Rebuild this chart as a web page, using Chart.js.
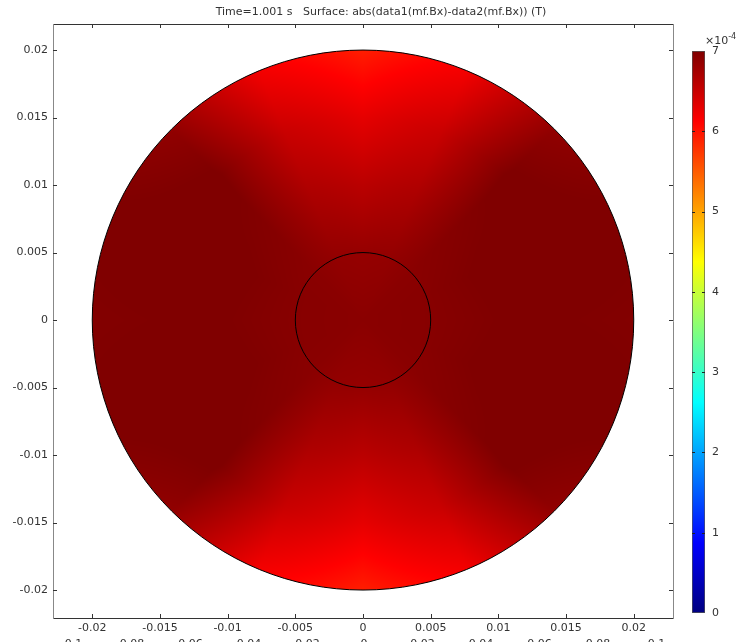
<!DOCTYPE html>
<html>
<head>
<meta charset="utf-8">
<script src="https://cdn.jsdelivr.net/npm/chart.js@4.4.0/dist/chart.umd.min.js"></script>
<style>
  html, body { margin: 0; padding: 0; background: #fff; overflow: hidden; }
  #wrap { position: relative; width: 738px; height: 642px; overflow: hidden; }
  #field { position: absolute; left: 0; top: 0; }
  #cbar { position: absolute; left: 680px; top: 0; }
</style>
</head>
<body>
<div id="wrap">
  <canvas id="field" width="738" height="660"></canvas>
  <canvas id="cbar" width="58" height="642"></canvas>
</div>
<script>
const titleText = "Time=1.001 s   Surface: abs(data1(mf.Bx)-data2(mf.Bx)) (T)";

// axis ticks
const xTicks = [-0.02, -0.015, -0.01, -0.005, 0, 0.005, 0.01, 0.015, 0.02];
const yTicks = [-0.02, -0.015, -0.01, -0.005, 0, 0.005, 0.01, 0.015, 0.02];
const ghostTicks = [-0.1, -0.08, -0.06, -0.04, -0.02, 0, 0.02, 0.04, 0.06, 0.08, 0.1];
const cbarTicks = [0, 1, 2, 3, 4, 5, 6, 7];

// geometry (m)
const outerRadius = 0.02;
const innerRadius = 0.005;

// field samples, x1e-4 T on a polar grid
const sampleAngles = [0, 22.5, 45, 67.5, 90, 112.5, 135, 157.5, 180, 202.5, 225, 247.5, 270, 292.5, 315, 337.5];
const sampleRadii = [0.005, 0.01, 0.015, 0.02];
const centreValue = 6.93;
const ring005 = [6.95, 6.95, 6.93, 6.87, 6.85, 6.87, 6.93, 6.95, 6.95, 6.95, 6.93, 6.87, 6.85, 6.87, 6.93, 6.95];
const ring010 = [7.0, 7.02, 6.97, 6.7, 6.6, 6.7, 6.97, 7.02, 7.0, 7.02, 6.97, 6.7, 6.6, 6.7, 6.97, 7.02];
const ring015 = [7.0, 7.05, 7.02, 6.5, 6.3, 6.5, 7.02, 7.05, 7.0, 7.05, 7.02, 6.5, 6.3, 6.5, 7.02, 7.05];
const ring020 = [6.98, 7.02, 6.88, 6.2, 5.92, 6.2, 6.88, 7.02, 6.98, 7.02, 6.88, 6.2, 5.92, 6.2, 6.88, 7.02];

// colour table (rainbow / jet)
const cbarMin = 0, cbarMax = 7;
const cmapValues = [0, 0.875, 2.625, 4.375, 6.125, 7];
const cmapColours = ["#000080", "#0000ff", "#00ffff", "#ffff00", "#ff0000", "#800000"];

const font = { family: "DejaVu Sans", size: 11 };
const textColour = "#333";
const fmt = (v) => String(Number(Number(v).toFixed(4)));

const rings = [sampleAngles.map(() => centreValue), ring005, ring010, ring015, ring020];
const radiiAll = [0].concat(sampleRadii);
const cmapRgb = cmapColours.map((h) => [1, 3, 5].map((i) => parseInt(h.substr(i, 2), 16)));

function sampleField(xv, yv) {
  const r = Math.hypot(xv, yv);
  let th = Math.atan2(yv, xv) * 180 / Math.PI;
  if (th < 0) th += 360;
  const step = 360 / sampleAngles.length;
  const i0 = Math.floor(th / step) % sampleAngles.length;
  const i1 = (i0 + 1) % sampleAngles.length;
  const ft = (th - i0 * step) / step;
  let j = 0;
  while (j < radiiAll.length - 2 && r > radiiAll[j + 1]) j++;
  const fr = Math.min(1, (r - radiiAll[j]) / (radiiAll[j + 1] - radiiAll[j]));
  const a = rings[j][i0] * (1 - ft) + rings[j][i1] * ft;
  const b = rings[j + 1][i0] * (1 - ft) + rings[j + 1][i1] * ft;
  return a * (1 - fr) + b * fr;
}

function colourFor(v) {
  v = Math.max(cbarMin, Math.min(cbarMax, v));
  let k = 0;
  while (k < cmapValues.length - 2 && v > cmapValues[k + 1]) k++;
  const f = (v - cmapValues[k]) / (cmapValues[k + 1] - cmapValues[k]);
  const c0 = cmapRgb[k], c1 = cmapRgb[k + 1];
  return [0, 1, 2].map((n) => Math.round(c0[n] + (c1[n] - c0[n]) * f));
}

const fieldPlugin = {
  id: "field",
  beforeDatasetsDraw(chart) {
    const { ctx, chartArea: a } = chart;
    const x = chart.scales.x, y = chart.scales.y;
    const w = Math.ceil(a.right - a.left), h = Math.ceil(a.bottom - a.top);
    const off = document.createElement("canvas");
    off.width = w; off.height = h;
    const octx = off.getContext("2d");
    const img = octx.createImageData(w, h);
    for (let j = 0; j < h; j++) {
      const yv = y.getValueForPixel(a.top + j + 0.5);
      for (let i = 0; i < w; i++) {
        const xv = x.getValueForPixel(a.left + i + 0.5);
        if (Math.hypot(xv, yv) > outerRadius * 1.02) continue;
        const c = colourFor(sampleField(xv, yv));
        const k = (j * w + i) * 4;
        img.data[k] = c[0]; img.data[k + 1] = c[1]; img.data[k + 2] = c[2]; img.data[k + 3] = 255;
      }
    }
    octx.putImageData(img, 0, 0);
    const cx = x.getPixelForValue(0), cy = y.getPixelForValue(0);
    const rx = x.getPixelForValue(outerRadius) - cx, ry = cy - y.getPixelForValue(outerRadius);
    ctx.save();
    ctx.beginPath();
    ctx.ellipse(cx, cy, rx, ry, 0, 0, Math.PI * 2);
    ctx.clip();
    ctx.drawImage(off, a.left, a.top);
    ctx.restore();
    ctx.save();
    ctx.strokeStyle = "#000";
    ctx.lineWidth = 1;
    [outerRadius, innerRadius].forEach((rad) => {
      const ex = x.getPixelForValue(rad) - cx, ey = cy - y.getPixelForValue(rad);
      ctx.beginPath();
      ctx.ellipse(cx, cy, ex, ey, 0, 0, Math.PI * 2);
      ctx.stroke();
    });
    ctx.restore();
  },
  afterDraw(chart) {
    const { ctx, chartArea: a } = chart;
    const x = chart.scales.x, y = chart.scales.y;
    ctx.save();
    ctx.strokeStyle = "#333";
    ctx.lineWidth = 1;
    ctx.beginPath();
    xTicks.forEach((v) => {
      const p = Math.round(x.getPixelForValue(v)) + 0.5;
      ctx.moveTo(p, a.bottom); ctx.lineTo(p, a.bottom - 4);
      ctx.moveTo(p, a.top); ctx.lineTo(p, a.top + 4);
    });
    yTicks.forEach((v) => {
      const p = Math.round(y.getPixelForValue(v)) + 0.5;
      ctx.moveTo(a.left, p); ctx.lineTo(a.left + 4, p);
      ctx.moveTo(a.right, p); ctx.lineTo(a.right - 4, p);
    });
    ctx.stroke();
    ctx.fillStyle = textColour;
    ctx.font = "11px 'DejaVu Sans'";
    ctx.textAlign = "center";
    ctx.textBaseline = "middle";
    ctx.fillText(titleText, 381, 12);
    ctx.restore();
  }
};

const setTicks = (list) => (axis) => { axis.ticks = list.map((v) => ({ value: v })); };
const xMin = -0.0229, xMax = 0.0229, yMin = -0.02207, yMax = 0.02193;
const ghostMin = -0.1063, ghostMax = 0.1056;

new Chart(document.getElementById("field"), {
  type: "scatter",
  data: { datasets: [] },
  options: {
    responsive: false,
    animation: false,
    events: [],
    layout: { padding: { left: 0, right: 65, top: 24, bottom: 0 } },
    plugins: { legend: { display: false }, tooltip: { enabled: false }, title: { display: false } },
    scales: {
      x: {
        type: "linear", position: "bottom", min: xMin, max: xMax, weight: 0,
        grid: { display: false, drawTicks: false },
        border: { display: true, color: "#333" },
        ticks: { font, color: textColour, padding: 4, maxRotation: 0, autoSkip: false, callback: fmt },
        afterBuildTicks: setTicks(xTicks),
        afterFit: (s) => { s.height = 18; }
      },
      xGhost: {
        type: "linear", position: "bottom", min: ghostMin, max: ghostMax, weight: 1,
        grid: { display: false, drawTicks: false },
        border: { display: false },
        ticks: { font, color: textColour, padding: 2, maxRotation: 0, autoSkip: false, callback: fmt },
        afterBuildTicks: setTicks(ghostTicks),
        afterFit: (s) => { s.height = 24; }
      },
      xTop: {
        type: "linear", position: "top", min: xMin, max: xMax,
        grid: { display: false, drawTicks: false },
        border: { display: true, color: "#333" },
        ticks: { display: false },
        afterFit: (s) => { s.height = 0; }
      },
      y: {
        type: "linear", position: "left", min: yMin, max: yMax,
        grid: { display: false, drawTicks: false },
        border: { display: true, color: "#888" },
        ticks: { font, color: textColour, padding: 5, autoSkip: false, callback: fmt },
        afterBuildTicks: setTicks(yTicks),
        afterFit: (s) => { s.width = 53; }
      },
      yRight: {
        type: "linear", position: "right", min: yMin, max: yMax,
        grid: { display: false, drawTicks: false },
        border: { display: true, color: "#888" },
        ticks: { display: false },
        afterFit: (s) => { s.width = 0; }
      }
    }
  },
  plugins: [fieldPlugin]
});

const cbarPlugin = {
  id: "cbarTicks",
  afterDatasetsDraw(chart) {
    const { ctx, chartArea: a } = chart;
    const y = chart.scales.y;
    ctx.save();
    ctx.strokeStyle = "#222";
    ctx.lineWidth = 1;
    ctx.beginPath();
    cbarTicks.forEach((v) => {
      if (v === cbarMin || v === cbarMax) return;
      const p = Math.round(y.getPixelForValue(v)) + 0.5;
      ctx.moveTo(a.left, p); ctx.lineTo(a.left + 3, p);
      ctx.moveTo(a.right, p); ctx.lineTo(a.right - 3, p);
    });
    ctx.stroke();
    ctx.fillStyle = textColour;
    ctx.textAlign = "left";
    ctx.textBaseline = "middle";
    ctx.font = "11px 'DejaVu Sans'";
    ctx.fillText("×10", 25, 41);
    const wd = ctx.measureText("×10").width;
    ctx.font = "8px 'DejaVu Sans'";
    ctx.fillText("-4", 25 + wd, 37);
    ctx.restore();
  }
};

new Chart(document.getElementById("cbar"), {
  type: "bar",
  data: {
    labels: [""],
    datasets: [{
      data: [[cbarMin, cbarMax]],
      backgroundColor: (c) => {
        const s = c.chart.scales.y;
        const p0 = s ? s.getPixelForValue(cbarMin) : NaN;
        const p1 = s ? s.getPixelForValue(cbarMax) : NaN;
        if (!Number.isFinite(p0) || !Number.isFinite(p1) || p0 === p1) return cmapColours[4];
        const g = c.chart.ctx.createLinearGradient(0, p0, 0, p1);
        cmapValues.forEach((v, i) => g.addColorStop((v - cbarMin) / (cbarMax - cbarMin), cmapColours[i]));
        return g;
      },
      borderColor: "#555",
      borderWidth: 1,
      borderSkipped: false,
      barPercentage: 1,
      categoryPercentage: 1
    }]
  },
  options: {
    responsive: false,
    animation: false,
    events: [],
    layout: { padding: { left: 12, top: 51, bottom: 29, right: 0 } },
    plugins: { legend: { display: false }, tooltip: { enabled: false } },
    scales: {
      x: { display: false },
      y: {
        position: "right", min: cbarMin, max: cbarMax,
        grid: { display: false, drawTicks: false },
        border: { display: false },
        ticks: { font, color: textColour, padding: 7, callback: fmt },
        afterBuildTicks: setTicks(cbarTicks),
        afterFit: (s) => { s.width = 33; }
      }
    }
  },
  plugins: [cbarPlugin]
});
</script>
</body>
</html>
